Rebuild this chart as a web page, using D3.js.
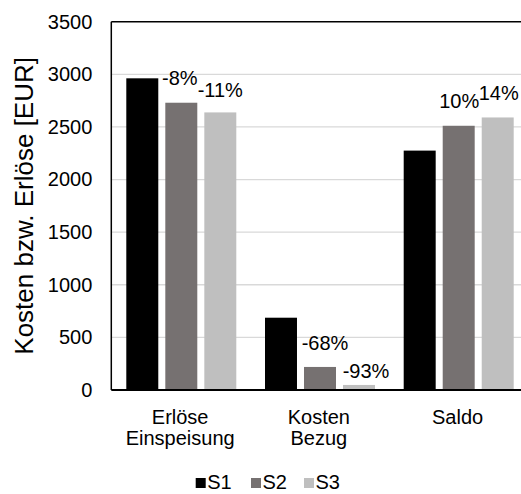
<!DOCTYPE html>
<html>
<head>
<meta charset="utf-8">
<script src="https://cdn.jsdelivr.net/npm/d3@7"></script>
<style>
  html, body { margin: 0; padding: 0; background: #fff; }
  svg { display: block; font-family: "Liberation Sans", Arial, sans-serif; }
</style>
</head>
<body>
<svg id="chart" width="521" height="494"></svg>
<script>
// Kategorien (zweizeilige Beschriftung) und Szenarien
const categories = ["Erlöse Einspeisung", "Kosten Bezug", "Saldo"];
const categoryLines = [["Erlöse", "Einspeisung"], ["Kosten", "Bezug"], ["Saldo"]];
const series = ["S1", "S2", "S3"];

// Werte in EUR je Kategorie, Reihenfolge S1, S2, S3
const erloeseEinspeisung = [2962, 2730, 2638];
const kostenBezug = [687, 219, 48];
const saldo = [2275, 2511, 2590];

const yTicks = [0, 500, 1000, 1500, 2000, 2500, 3000, 3500];
const colors = ["#000000", "#767171", "#bfbfbf"];

const values = [erloeseEinspeisung, kostenBezug, saldo];

const svg = d3.select("#chart");
const plot = { left: 111.3, top: 21.7, bottom: 390, right: 527.4 };

const y = d3.scaleLinear().domain([0, 3500]).range([plot.bottom, plot.top]);
const x0 = d3.scaleBand().domain(categories).range([plot.left, plot.right]);
const x1 = d3.scaleBand().domain(series).range([15, 125]).paddingInner(0.18);

// Gitterlinien
svg.append("g")
  .selectAll("line")
  .data(yTicks.filter(t => t > 0 && t < 3500))
  .join("line")
  .attr("x1", plot.left).attr("x2", 521)
  .attr("y1", d => y(d)).attr("y2", d => y(d))
  .attr("stroke", "#d9d9d9").attr("stroke-width", 1.3);

// Y-Achse (nur Beschriftung)
const yAxis = d3.axisLeft(y).tickValues(yTicks).tickFormat(d3.format("d")).tickSize(0).tickPadding(19);
const gy = svg.append("g").attr("transform", `translate(${plot.left},0)`).call(yAxis);
gy.select(".domain").remove();
gy.selectAll("text")
  .attr("font-size", 20)
  .attr("font-family", "Liberation Sans, Arial, sans-serif")
  .attr("fill", "#000");

// Balken
const groups = svg.append("g")
  .selectAll("g")
  .data(categories)
  .join("g")
  .attr("transform", d => `translate(${x0(d)},0)`);

groups.selectAll("rect")
  .data((c, i) => values[i].map((v, j) => ({ s: series[j], v, j })))
  .join("rect")
  .attr("x", d => x1(d.s))
  .attr("width", x1.bandwidth())
  .attr("y", d => y(d.v))
  .attr("height", d => y(0) - y(d.v))
  .attr("fill", d => colors[d.j]);

// Prozentuale Veränderung gegenüber S1
const nudge = [
  [[0, 0], [-1.5, -17.5], [0, -15.6]],
  [[0, 0], [5, -17], [7, -6.7]],
  [[0, 0], [0.5, -17.4], [1, -17.7]]
];
groups.each(function (c, i) {
  const base = values[i][0];
  d3.select(this).selectAll("text.pct")
    .data(values[i].slice(1).map((v, k) => ({ s: series[k + 1], v, j: k + 1 })))
    .join("text")
    .attr("class", "pct")
    .attr("x", d => x1(d.s) + x1.bandwidth() / 2 + nudge[i][d.j][0])
    .attr("y", d => y(d.v) + nudge[i][d.j][1])
    .attr("text-anchor", "middle")
    .attr("font-size", 20)
    .attr("fill", "#000")
    .text(d => `${Math.round((d.v / base - 1) * 100)}%`);
});

// Rahmen: oben, links, unten
svg.append("line")
  .attr("x1", plot.left).attr("x2", 521)
  .attr("y1", plot.top).attr("y2", plot.top)
  .attr("stroke", "#000").attr("stroke-width", 1.5);
svg.append("line")
  .attr("x1", plot.left).attr("x2", plot.left)
  .attr("y1", plot.top).attr("y2", plot.bottom)
  .attr("stroke", "#000").attr("stroke-width", 1.5);
svg.append("line")
  .attr("x1", plot.left).attr("x2", 521)
  .attr("y1", plot.bottom).attr("y2", plot.bottom)
  .attr("stroke", "#000").attr("stroke-width", 1.8);

// Kategorienbeschriftung
svg.append("g")
  .selectAll("text")
  .data(categories)
  .join("text")
  .attr("x", d => x0(d) + x0.bandwidth() / 2 - 0.5)
  .attr("y", 424.3)
  .attr("text-anchor", "middle")
  .attr("font-size", 20)
  .attr("fill", "#000")
  .each(function (d, i) {
    d3.select(this).selectAll("tspan")
      .data(categoryLines[i])
      .join("tspan")
      .attr("x", x0(d) + x0.bandwidth() / 2 - 0.5)
      .attr("dy", (t, k) => k === 0 ? 0 : 21)
      .text(t => t);
  });

// Achsentitel
svg.append("text")
  .attr("transform", `translate(33,${(plot.top + plot.bottom) / 2}) rotate(-90)`)
  .attr("text-anchor", "middle")
  .attr("font-size", 26)
  .attr("fill", "#000")
  .text("Kosten bzw. Erlöse [EUR]");

// Legende
const legendX = [195.7, 251, 304];
const legend = svg.append("g")
  .selectAll("g")
  .data(series)
  .join("g")
  .attr("transform", (d, i) => `translate(${legendX[i]},0)`);
legend.append("rect")
  .attr("x", 0).attr("y", 478)
  .attr("width", 10).attr("height", 10)
  .attr("fill", (d, i) => colors[i]);
legend.append("text")
  .attr("x", 11.5).attr("y", 489)
  .attr("font-size", 20)
  .attr("fill", "#000")
  .text(d => d);
</script>
</body>
</html>
